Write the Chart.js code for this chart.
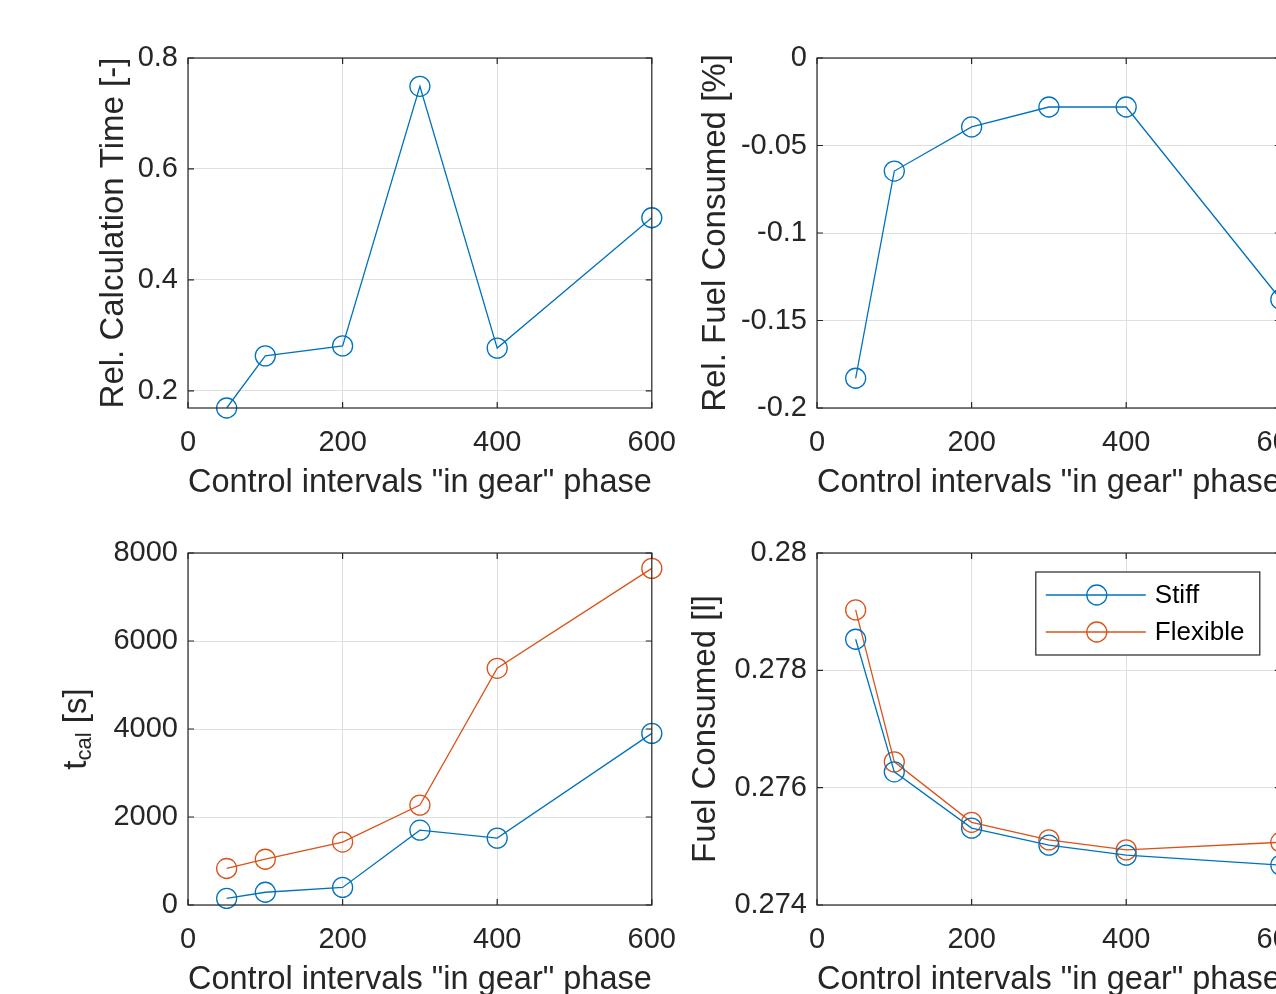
<!DOCTYPE html>
<html>
<head>
<meta charset="utf-8">
<script src="https://cdn.jsdelivr.net/npm/chart.js@4"></script>
<style>
html, body { margin: 0; padding: 0; background: #fff; overflow: hidden; width: 1276px; height: 994px; }
canvas { position: absolute; }
</style>
</head>
<body>
<canvas id="relTime"></canvas>
<canvas id="relFuel"></canvas>
<canvas id="tcal"></canvas>
<canvas id="fuel"></canvas>
<script>
// values
const intervals = [50, 100, 200, 300, 400, 600];
const relCalcTime = [0.169, 0.263, 0.281, 0.749, 0.277, 0.512];
const relFuelConsumed = [-0.183, -0.0646, -0.0394, -0.028, -0.028, -0.138];
const tcalStiff = [150, 290, 400, 1700, 1520, 3900];
const tcalFlexible = [830, 1040, 1430, 2270, 5380, 7650];
const fuelStiff = [0.27853, 0.27627, 0.27531, 0.27502, 0.27485, 0.27468];
const fuelFlexible = [0.27903, 0.27644, 0.27541, 0.27511, 0.27494, 0.27507];

const xTicks = [0, 200, 400, 600];
const relCalcTicks = [0.2, 0.4, 0.6, 0.8];
const relFuelTicks = [-0.2, -0.15, -0.1, -0.05, 0];
const tcalTicks = [0, 2000, 4000, 6000, 8000];
const fuelTicks = [0.274, 0.276, 0.278, 0.28];

const xLabel = 'Control intervals "in gear" phase';

const blue = '#0072BD';
const orange = '#D95319';
const ink = '#262626';
const family = '"Liberation Sans", Arial, Helvetica, sans-serif';
const tickFont = { family: family, size: 29 };
const labelFont = { family: family, size: 33 };

Chart.defaults.color = ink;
Chart.defaults.font.family = family;

function series(label, ys, color) {
    return {
        label: label,
        data: intervals.map((x, i) => ({ x: x, y: ys[i] })),
        borderColor: color,
        borderWidth: 1.3,
        pointRadius: 10,
        pointHoverRadius: 10,
        pointBorderWidth: 1.3,
        pointBorderColor: color,
        pointBackgroundColor: 'rgba(0,0,0,0)',
        tension: 0,
        fill: false,
        clip: false
    };
}

// matlab style box with inward ticks on all four sides
const boxPlugin = {
    id: 'box',
    afterDraw(chart) {
        const ctx = chart.ctx;
        const a = chart.chartArea;
        const x = chart.scales.x, y = chart.scales.y;
        ctx.save();
        ctx.strokeStyle = ink;
        ctx.lineWidth = 1.2;
        ctx.strokeRect(a.left, a.top, a.right - a.left, a.bottom - a.top);
        ctx.beginPath();
        x.ticks.forEach(t => {
            const p = x.getPixelForValue(t.value);
            ctx.moveTo(p, a.bottom); ctx.lineTo(p, a.bottom - 6);
            ctx.moveTo(p, a.top); ctx.lineTo(p, a.top + 6);
        });
        y.ticks.forEach(t => {
            const p = y.getPixelForValue(t.value);
            ctx.moveTo(a.left, p); ctx.lineTo(a.left + 6, p);
            ctx.moveTo(a.right, p); ctx.lineTo(a.right - 6, p);
        });
        ctx.stroke();
        ctx.restore();
    }
};

// y title "t_cal [s]" with a subscript
const subTitlePlugin = {
    id: 'subTitle',
    afterDraw(chart) {
        const o = chart.options.plugins.subTitle;
        if (!o || !o.main) return;
        const ctx = chart.ctx;
        const a = chart.chartArea;
        const big = labelFont.size + 'px ' + family;
        const small = '22px ' + family;
        ctx.save();
        ctx.fillStyle = ink;
        ctx.textBaseline = 'middle';
        ctx.textAlign = 'left';
        ctx.font = big;
        const w1 = ctx.measureText(o.main).width;
        const w3 = ctx.measureText(o.after).width;
        ctx.font = small;
        const w2 = ctx.measureText(o.sub).width;
        ctx.translate(o.x, (a.top + a.bottom) / 2);
        ctx.rotate(-Math.PI / 2);
        let pos = -(w1 + w2 + w3) / 2;
        ctx.font = big;
        ctx.fillText(o.main, pos, 0);
        pos += w1;
        ctx.font = small;
        ctx.fillText(o.sub, pos, 8);
        pos += w2;
        ctx.font = big;
        ctx.fillText(o.after, pos, 0);
        ctx.restore();
    }
};

const legendPlugin = {
    id: 'boxLegend',
    afterDraw(chart) {
        if (!chart.options.plugins.boxLegend.show) return;
        const ctx = chart.ctx;
        const a = chart.chartArea;
        const w = 224, h = 83, rowH = 37;
        const bx = a.right - 21 - w, by = a.top + 19;
        ctx.save();
        ctx.fillStyle = '#fff';
        ctx.fillRect(bx, by, w, h);
        ctx.strokeStyle = ink;
        ctx.lineWidth = 1.2;
        ctx.strokeRect(bx, by, w, h);
        ctx.font = '26px ' + family;
        ctx.textBaseline = 'middle';
        chart.data.datasets.forEach((ds, i) => {
            const cy = by + 23 + i * rowH;
            ctx.strokeStyle = ds.borderColor;
            ctx.lineWidth = 1.3;
            ctx.beginPath();
            ctx.moveTo(bx + 10, cy); ctx.lineTo(bx + 110, cy);
            ctx.stroke();
            ctx.beginPath();
            ctx.arc(bx + 61, cy, 10, 0, Math.PI * 2);
            ctx.stroke();
            ctx.fillStyle = '#000';
            ctx.fillText(ds.label, bx + 119, cy + 1);
        });
        ctx.restore();
    }
};

function makeChart(id, o) {
    const padTop = 28, padRight = 40, xAxisH = 99;
    const canvasLeft = Math.round(o.titleX - 4 - labelFont.size * 1.2 / 2);
    const yW = o.left - canvasLeft;
    const canvasTop = o.top - padTop;
    const w = o.right + padRight - canvasLeft;
    const h = o.bottom + xAxisH - canvasTop;
    const cv = document.getElementById(id);
    cv.width = w; cv.height = h;
    cv.style.width = w + 'px'; cv.style.height = h + 'px';
    cv.style.left = canvasLeft + 'px'; cv.style.top = canvasTop + 'px';
    if (o.sub) o.sub.x = o.titleX - canvasLeft;

    return new Chart(cv, {
        type: 'line',
        data: { datasets: o.datasets },
        options: {
            responsive: false,
            animation: false,
            events: [],
            layout: { padding: { top: padTop, right: padRight, left: 0, bottom: 0 } },
            plugins: {
                legend: { display: false },
                tooltip: { enabled: false },
                subTitle: o.sub || {},
                boxLegend: { show: !!o.legend }
            },
            scales: {
                x: {
                    type: 'linear',
                    min: 0, max: 600,
                    afterBuildTicks: s => { s.ticks = xTicks.map(v => ({ value: v })); },
                    afterFit: s => { s.height = xAxisH; },
                    grid: { color: '#dfdfdf', lineWidth: 1, drawTicks: false },
                    border: { display: false },
                    ticks: { font: tickFont, color: ink, padding: 18, maxRotation: 0, callback: v => String(v) },
                    title: { display: true, text: xLabel, font: labelFont, color: ink, padding: { top: 4, bottom: 4 } }
                },
                y: {
                    type: 'linear',
                    min: o.yMin, max: o.yMax,
                    afterBuildTicks: s => { s.ticks = o.yTicks.map(v => ({ value: v })); },
                    afterFit: s => { s.width = yW; },
                    grid: { color: '#dfdfdf', lineWidth: 1, drawTicks: false },
                    border: { display: false },
                    ticks: { font: tickFont, color: ink, padding: 10, callback: v => String(v) },
                    title: { display: !o.sub, text: o.yTitle, font: labelFont, color: ink, padding: { top: 4, bottom: 4 } }
                }
            }
        },
        plugins: [boxPlugin, subTitlePlugin, legendPlugin]
    });
}

makeChart('relTime', {
    left: 188, top: 58, right: 654, bottom: 408, titleX: 114,
    yMin: 0.169, yMax: 0.8, yTicks: relCalcTicks,
    yTitle: 'Rel. Calculation Time [-]',
    datasets: [series('Rel. Calculation Time', relCalcTime, blue)]
});

makeChart('relFuel', {
    left: 817, top: 58, right: 1283, bottom: 408, titleX: 716,
    yMin: -0.2, yMax: 0, yTicks: relFuelTicks,
    yTitle: 'Rel. Fuel Consumed [%]',
    datasets: [series('Rel. Fuel Consumed', relFuelConsumed, blue)]
});

makeChart('tcal', {
    left: 188, top: 553, right: 654, bottom: 905, titleX: 77,
    yMin: 0, yMax: 8000, yTicks: tcalTicks,
    yTitle: 't_cal [s]',
    sub: { main: 't', sub: 'cal', after: ' [s]' },
    datasets: [series('Stiff', tcalStiff, blue), series('Flexible', tcalFlexible, orange)]
});

makeChart('fuel', {
    left: 817, top: 553, right: 1283, bottom: 905, titleX: 706,
    yMin: 0.274, yMax: 0.28, yTicks: fuelTicks,
    yTitle: 'Fuel Consumed [l]',
    legend: true,
    datasets: [series('Stiff', fuelStiff, blue), series('Flexible', fuelFlexible, orange)]
});
</script>
</body>
</html>
